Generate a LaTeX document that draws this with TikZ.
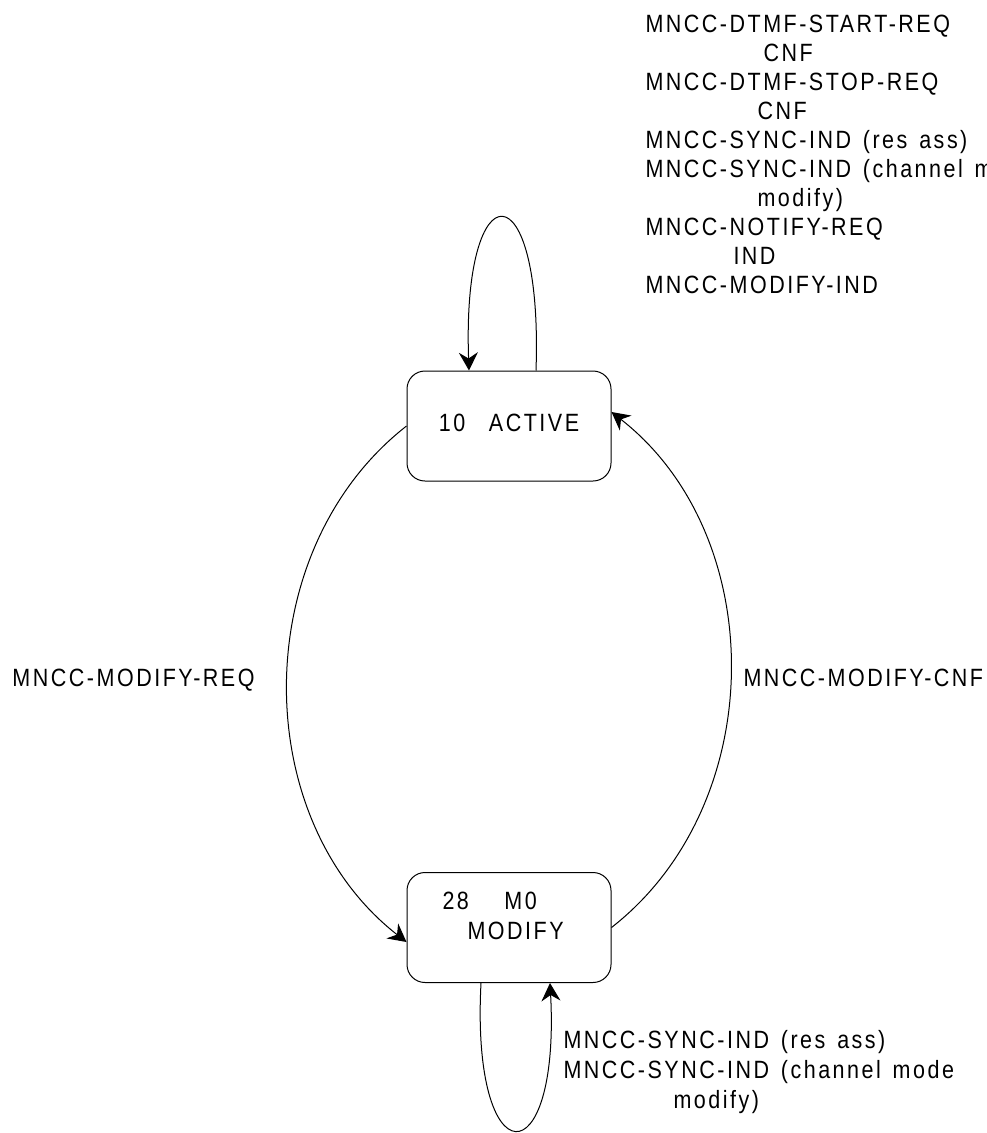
\documentclass[tikz,border=0pt]{standalone}
\usepackage{fontspec}
\setmainfont{Liberation Sans}[FakeStretch=0.86,LetterSpace=10,WordSpace=1.4]
\usetikzlibrary{arrows.meta}

\begin{document}
\begin{tikzpicture}[x=1pt,y=-1pt,line width=1pt,
    >={Stealth[length=18pt,width=19pt,inset=6pt]},
    font=\fontsize{25}{29}\selectfont,
    stbox/.style={draw,rounded corners=18pt,minimum width=204pt,minimum height=110pt,inner sep=0pt},
    msg/.style={inner sep=0pt,align=left,anchor=base west}]
  \useasboundingbox (0,0) rectangle (986,1133);
  \clip (0,0) rectangle (986,1133);

  % states
  \node[stbox,text depth=6pt] (active) at (509,426) {10~~ACTIVE};
  \node[stbox] (modify) at (509,927.5) {};
  \node[msg,font=\fontsize{25}{30}\selectfont] (modtxt) at ([xshift=-67pt,yshift=-11.5pt]modify.center)
    {28~~~M0\\\hspace*{25pt}MODIFY};

  % transitions
  \draw[->] ([xshift=27pt]active.north) to[out=88,in=92,looseness=7.8] ([xshift=-40pt]active.north);
  \draw[->] (active.west) to[bend right=52] ([yshift=-14.5pt]modify.west);
  \draw[->] (modify.east) to[bend right=52] ([yshift=14pt]active.east);
  \draw[->] ([xshift=-28pt]modify.south) to[out=-93,in=-87,looseness=7.3] ([xshift=41pt]modify.south);

  % messages (base = last line)
  \node[msg] (selfact) at (645,293) {MNCC-DTMF-START-REQ\\\hspace*{118pt}CNF\\MNCC-DTMF-STOP-REQ\\\hspace*{112pt}CNF\\MNCC-SYNC-IND (res ass)\\MNCC-SYNC-IND (channel mode\\\hspace*{112pt}modify)\\MNCC-NOTIFY-REQ\\\hspace*{88pt}IND\\MNCC-MODIFY-IND};
  \node[msg] (modreq) at (12,686) {MNCC-MODIFY-REQ};
  \node[msg] (modcnf) at (743,686) {MNCC-MODIFY-CNF};
  \node[msg,font=\fontsize{25}{30}\selectfont] (selfmod) at (563,1108) {MNCC-SYNC-IND (res ass)\\MNCC-SYNC-IND (channel mode\\\hspace*{110pt}modify)};
\end{tikzpicture}
\end{document}
